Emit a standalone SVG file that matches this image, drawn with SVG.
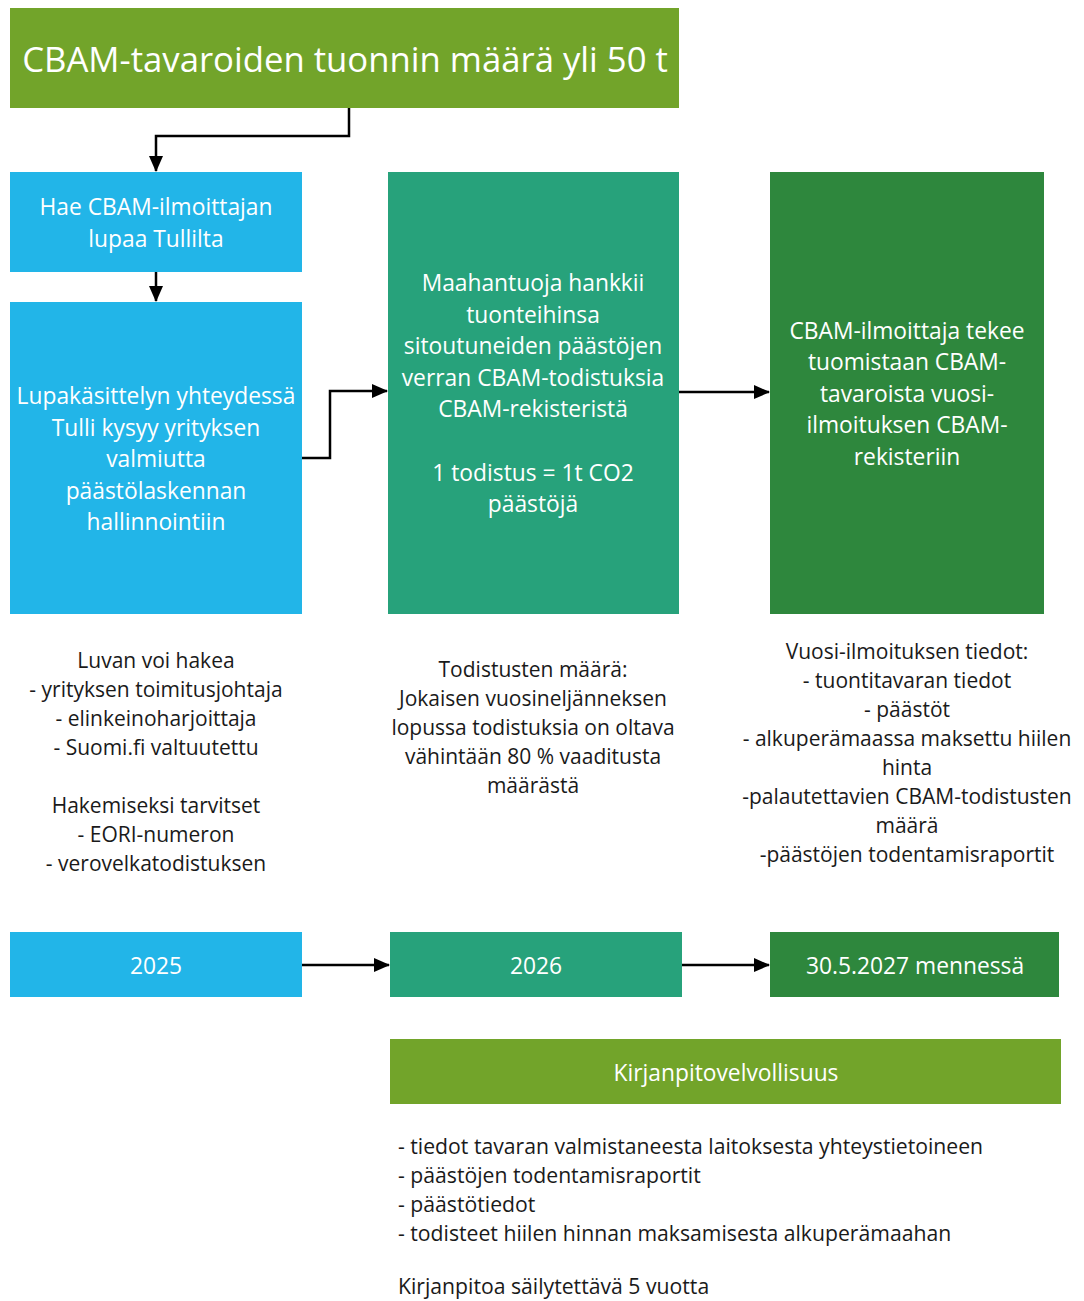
<svg xmlns="http://www.w3.org/2000/svg" width="1084" height="1301" viewBox="0 0 1084 1301">
<style>
.w{fill:#ffffff;font-family:"Open Sans","Noto Sans",sans-serif;text-anchor:middle;dominant-baseline:central}
.b{fill:#1a1a1a;font-family:"Open Sans","Noto Sans",sans-serif;font-size:21px;text-anchor:middle;dominant-baseline:central}
.l{fill:#1a1a1a;font-family:"Open Sans","Noto Sans",sans-serif;font-size:21.2px;dominant-baseline:central}
.m{font-size:22.8px}
.c{fill:none;stroke:#000;stroke-width:2.5}
.olive{fill:#72a42a}.blue{fill:#22b5e8}.teal{fill:#27a27b}.dg{fill:#2e873d}
</style>
<defs>
<marker id="ah2" markerWidth="16" markerHeight="14" refX="15" refY="7" orient="auto" markerUnits="userSpaceOnUse" viewBox="0 0 16 14">
<path d="M0,0 L16,7 L0,14 z" fill="#000"/>
</marker>
</defs>

<g id="title">
<rect class="olive" x="10" y="8" width="669" height="100"/>
<text class="w" x="345" y="58" font-size="34.7">CBAM-tavaroiden tuonnin määrä yli 50 t</text>
</g>

<g id="haelupa">
<rect class="blue" x="10" y="172" width="292" height="100"/>
<text class="w m" x="156" y="206">Hae CBAM-ilmoittajan</text>
<text class="w m" x="156" y="238">lupaa Tullilta</text>
</g>

<g id="lupakasittely">
<rect class="blue" x="10" y="302" width="292" height="312"/>
<text class="w m" x="156" y="395">Lupakäsittelyn yhteydessä</text>
<text class="w m" x="156" y="427">Tulli kysyy yrityksen</text>
<text class="w m" x="156" y="458">valmiutta</text>
<text class="w m" x="156" y="490">päästölaskennan</text>
<text class="w m" x="156" y="521">hallinnointiin</text>
</g>

<g id="maahantuoja">
<rect class="teal" x="388" y="172" width="291" height="442"/>
<text class="w m" x="533" y="282">Maahantuoja hankkii</text>
<text class="w m" x="533" y="314">tuonteihinsa</text>
<text class="w m" x="533" y="345">sitoutuneiden päästöjen</text>
<text class="w m" x="533" y="377">verran CBAM-todistuksia</text>
<text class="w m" x="533" y="408">CBAM-rekisteristä</text>
<text class="w m" x="533" y="472">1 todistus = 1t CO2</text>
<text class="w m" x="533" y="503">päästöjä</text>
</g>

<g id="ilmoittaja">
<rect class="dg" x="770" y="172" width="274" height="442"/>
<text class="w m" x="907" y="330">CBAM-ilmoittaja tekee</text>
<text class="w m" x="907" y="361">tuomistaan CBAM-</text>
<text class="w m" x="907" y="393">tavaroista vuosi-</text>
<text class="w m" x="907" y="424">ilmoituksen CBAM-</text>
<text class="w m" x="907" y="456">rekisteriin</text>
</g>

<g id="luvanteksti">
<text class="b" x="156" y="660">Luvan voi hakea</text>
<text class="b" x="156" y="689">- yrityksen toimitusjohtaja</text>
<text class="b" x="156" y="718">- elinkeinoharjoittaja</text>
<text class="b" x="156" y="747">- Suomi.fi valtuutettu</text>
<text class="b" x="156" y="805">Hakemiseksi tarvitset</text>
<text class="b" x="156" y="834">- EORI-numeron</text>
<text class="b" x="156" y="863">- verovelkatodistuksen</text>
</g>

<g id="todistusteksti">
<text class="b" x="533" y="669">Todistusten määrä:</text>
<text class="b" x="533" y="698">Jokaisen vuosineljänneksen</text>
<text class="b" x="533" y="727">lopussa todistuksia on oltava</text>
<text class="b" x="533" y="756">vähintään 80 % vaaditusta</text>
<text class="b" x="533" y="785">määrästä</text>
</g>

<g id="vuositeksti">
<text class="b" x="907" y="651">Vuosi-ilmoituksen tiedot:</text>
<text class="b" x="907" y="680">- tuontitavaran tiedot</text>
<text class="b" x="907" y="709">- päästöt</text>
<text class="b" x="907" y="738">- alkuperämaassa maksettu hiilen</text>
<text class="b" x="907" y="767">hinta</text>
<text class="b" x="907" y="796">-palautettavien CBAM-todistusten</text>
<text class="b" x="907" y="825">määrä</text>
<text class="b" x="907" y="854">-päästöjen todentamisraportit</text>
</g>

<g id="y2025">
<rect class="blue" x="10" y="932" width="292" height="65"/>
<text class="w m" x="156" y="965">2025</text>
</g>
<g id="y2026">
<rect class="teal" x="390" y="932" width="292" height="65"/>
<text class="w m" x="536" y="965">2026</text>
</g>
<g id="y2027">
<rect class="dg" x="770" y="932" width="289" height="65"/>
<text class="w m" x="915" y="965">30.5.2027 mennessä</text>
</g>

<g id="kirjanpito">
<rect class="olive" x="390" y="1039" width="671" height="65"/>
<text class="w m" x="726" y="1072">Kirjanpitovelvollisuus</text>
</g>

<g id="kirjanpitoteksti">
<text class="l" x="398" y="1145">- tiedot tavaran valmistaneesta laitoksesta yhteystietoineen</text>
<text class="l" x="398" y="1174">- päästöjen todentamisraportit</text>
<text class="l" x="398" y="1203">- päästötiedot</text>
<text class="l" x="398" y="1232">- todisteet hiilen hinnan maksamisesta alkuperämaahan</text>
<text class="l" x="398" y="1285">Kirjanpitoa säilytettävä 5 vuotta</text>
</g>

<g id="connectors">
<path class="c" d="M349,108 V136 H156 V171" marker-end="url(#ah2)"/>
<path class="c" d="M156,272 V301" marker-end="url(#ah2)"/>
<path class="c" d="M302,458 H330 V391 H387" marker-end="url(#ah2)"/>
<path class="c" d="M679,392 H769" marker-end="url(#ah2)"/>
<path class="c" d="M302,965 H389" marker-end="url(#ah2)"/>
<path class="c" d="M682,965 H769" marker-end="url(#ah2)"/>
</g>
</svg>
